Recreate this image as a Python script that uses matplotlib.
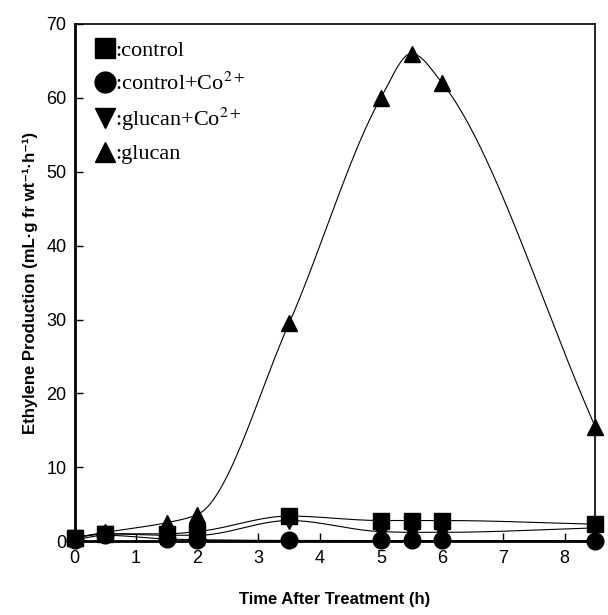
import matplotlib
matplotlib.use("Agg")
import matplotlib.pyplot as plt
from matplotlib.lines import Line2D
import numpy as np

# time after treatment (h)
hours = [0, 0.5, 1.5, 2, 3.5, 5, 5.5, 6, 8.5]
# ethylene production (mL g fr wt^-1 h^-1)
control = [0.5, 1.0, 1.0, 1.3, 3.4, 2.8, 2.8, 2.8, 2.3]
control_co = [0.2, 0.8, 0.3, 0.2, 0.1, 0.1, 0.1, 0.1, 0.0]
glucan_co = [0.5, 1.0, 0.8, 0.8, 2.8, 1.3, 1.2, 1.2, 1.8]
glucan = [0.5, 1.2, 2.5, 3.6, 29.5, 60.0, 66.0, 62.0, 15.5]

xticks = list(range(0, 9))
yticks = list(range(0, 80, 10))

SANS = ["Liberation Sans Narrow", "Liberation Sans", "DejaVu Sans"]
SERIF = ["Liberation Serif", "DejaVu Serif"]
plt.rcParams["mathtext.fontset"] = "stix"


def pchip(x, y, xs):
    # shape preserving cubic, used only to draw the smooth connecting curve
    x = np.asarray(x, float); y = np.asarray(y, float)
    h = np.diff(x); d = np.diff(y) / h
    m = np.zeros_like(y)
    for k in range(1, len(x) - 1):
        if d[k - 1] * d[k] > 0:
            w1 = 2 * h[k] + h[k - 1]; w2 = h[k] + 2 * h[k - 1]
            m[k] = (w1 + w2) / (w1 / d[k - 1] + w2 / d[k])
    m[0] = d[0]; m[-1] = d[-1]
    idx = np.clip(np.searchsorted(x, xs) - 1, 0, len(h) - 1)
    t = (xs - x[idx]) / h[idx]
    h00 = 2 * t**3 - 3 * t**2 + 1; h10 = t**3 - 2 * t**2 + t
    h01 = -2 * t**3 + 3 * t**2; h11 = t**3 - t**2
    return h00 * y[idx] + h10 * h[idx] * m[idx] + h01 * y[idx + 1] + h11 * h[idx] * m[idx + 1]


fig = plt.figure(figsize=(6.08, 6.15), dpi=100)
ax = fig.add_axes([0.123, 0.12, 0.856, 0.841])

xs = np.linspace(hours[0], hours[-1], 400)
series = [
    (control, "s", "control"),
    (control_co, "o", "control+Co$^{2+}$"),
    (glucan_co, "v", "glucan+Co$^{2+}$"),
    (glucan, "^", "glucan"),
]
for vals, mk, lab in series:
    ax.plot(xs, pchip(hours, vals, xs), color="black", lw=0.8)
    ax.plot(hours, vals, ls="none", marker=mk, ms=12, color="black", clip_on=False, zorder=3)

ax.set_xlim(0, 8.5)
ax.set_ylim(0, 70)
ax.set_xticks(xticks)
ax.set_yticks(yticks)
ax.tick_params(direction="in", length=6, width=1, labelsize=13, pad=6)
for t in ax.get_xticklabels() + ax.get_yticklabels():
    t.set_family(SANS)
for s in ("left", "bottom"):
    ax.spines[s].set_linewidth(2.0)
for s in ("top", "right"):
    ax.spines[s].set_linewidth(1.2)

ax.set_xlabel("Time After Treatment (h)", fontsize=12, fontweight="bold", family=SANS, labelpad=18)
ax.set_ylabel("Ethylene Production (mL·g fr wt⁻¹·h⁻¹)", fontsize=12,
              fontweight="bold", family=SANS, labelpad=6)

handles = [Line2D([], [], ls="none", marker=mk, ms=15, color="black") for _, mk, _ in series]
labels = [":" + lab for _, _, lab in series]
ax.legend(handles, labels, loc="upper left", bbox_to_anchor=(0.0, 1.0), frameon=False,
          handletextpad=-0.15, handlelength=1.2, labelspacing=0.5, borderaxespad=0.35,
          prop={"family": SERIF, "size": 16})

fig.savefig("out.png", dpi=100)
